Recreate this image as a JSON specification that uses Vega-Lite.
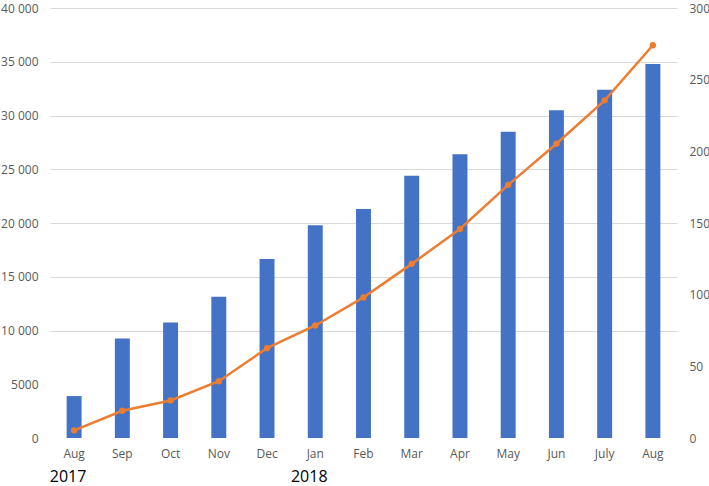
{
  "$schema": "https://vega.github.io/schema/vega-lite/v6.json",
  "width": 627,
  "height": 430,
  "autosize": {"type": "none"},
  "padding": {"left": 50, "top": 8, "right": 32, "bottom": 48},
  "background": "white",
  "config": {
    "view": {"stroke": null},
    "font": "Open Sans",
    "axis": {"labelFont": "Open Sans", "labelColor": "#595959", "labelFontSize": 12, "domain": false, "ticks": false, "title": null},
    "locale": {
      "number": {"decimal": ",", "thousands": " ", "grouping": [3], "currency": ["", ""]},
      "time": {
        "dateTime": "%a %b %e %X %Y",
        "date": "%m/%d/%Y",
        "time": "%H:%M:%S",
        "periods": ["AM", "PM"],
        "days": ["Sunday", "Monday", "Tuesday", "Wednesday", "Thursday", "Friday", "Saturday"],
        "shortDays": ["Sun", "Mon", "Tue", "Wed", "Thu", "Fri", "Sat"],
        "months": ["January", "February", "March", "April", "May", "June", "July", "August", "September", "October", "November", "December"],
        "shortMonths": ["Jan", "Feb", "Mar", "Apr", "May", "Jun", "July", "Aug", "Sep", "Oct", "Nov", "Dec"]
      }
    }
  },
  "data": {
    "values": [
      {"date": "2017-08-15", "count": 3900, "line": 5.3},
      {"date": "2017-09-15", "count": 9250, "line": 19},
      {"date": "2017-10-15", "count": 10750, "line": 26.2},
      {"date": "2017-11-15", "count": 13150, "line": 39.6},
      {"date": "2017-12-15", "count": 16640, "line": 62.7},
      {"date": "2018-01-15", "count": 19800, "line": 78.5},
      {"date": "2018-02-15", "count": 21300, "line": 98.1},
      {"date": "2018-03-15", "count": 24400, "line": 121.5},
      {"date": "2018-04-15", "count": 26400, "line": 145.8},
      {"date": "2018-05-15", "count": 28500, "line": 176.6},
      {"date": "2018-06-15", "count": 30500, "line": 205.3},
      {"date": "2018-07-15", "count": 32400, "line": 235.6},
      {"date": "2018-08-15", "count": 34800, "line": 274}
    ]
  },
  "layer": [
    {
      "mark": {"type": "bar", "color": "#4472C4"},
      "encoding": {
        "x": {"field": "date", "type": "ordinal", "timeUnit": "yearmonth",
          "scale": {"paddingInner": 0.69, "paddingOuter": 0.345},
          "axis": {"orient": "bottom", "format": "%b", "labelAngle": 0, "labelPadding": 10, "grid": false}},
        "y": {"field": "count", "type": "quantitative",
          "scale": {"domain": [0, 40000]},
          "axis": {"orient": "left", "values": [10000, 15000, 20000, 25000, 30000, 35000, 40000], "format": ",d", "labelPadding": 12, "gridColor": "#D9D9D9", "gridWidth": 1}}
      }
    },
    {
      "mark": {"type": "bar", "opacity": 0},
      "encoding": {
        "x": {"field": "date", "type": "ordinal", "timeUnit": "yearmonth", "axis": null},
        "y": {"field": "count", "type": "quantitative",
          "scale": {"domain": [0, 40000]},
          "axis": {"orient": "left", "values": [0, 5000], "format": "d", "labelPadding": 12, "gridColor": "#D9D9D9", "gridWidth": 1}}
      }
    },
    {
      "mark": {"type": "line", "color": "#ED7D31", "strokeWidth": 2.5, "point": {"filled": true, "color": "#ED7D31", "size": 40}},
      "encoding": {
        "x": {"field": "date", "type": "ordinal", "timeUnit": "yearmonth",
          "axis": {"orient": "bottom", "values": [{"year": 2017, "month": 8}, {"year": 2018, "month": 1}], "format": "%Y", "labelAngle": 0, "labelPadding": 30, "labelFontSize": 16, "labelColor": "black", "labelOffset": -6, "grid": false}},
        "y": {"field": "line", "type": "quantitative",
          "scale": {"domain": [0, 300]},
          "axis": {"orient": "right", "values": [0, 50, 100, 150, 200, 250, 300], "labelPadding": 12, "grid": false}}
      }
    }
  ],
  "resolve": {"scale": {"y": "independent"}, "axis": {"x": "independent"}}
}
